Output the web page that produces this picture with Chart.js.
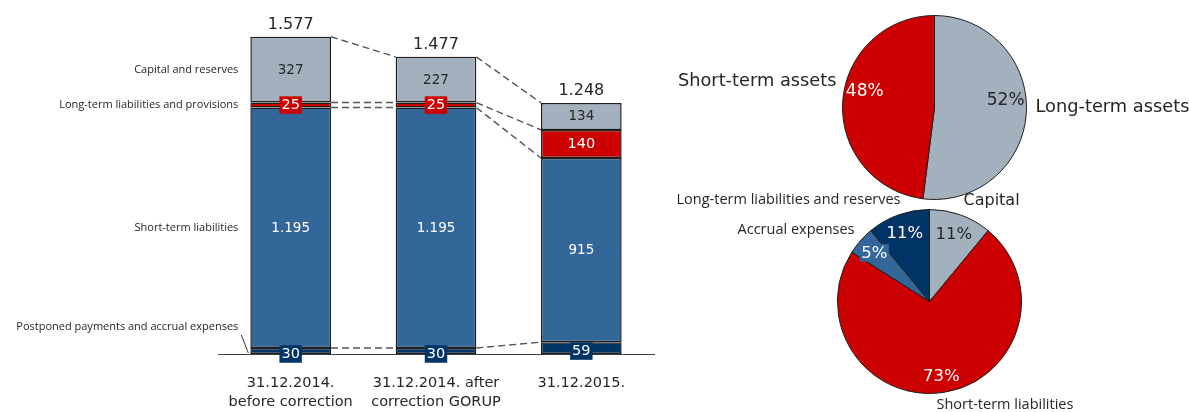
<!DOCTYPE html>
<html><head><meta charset="utf-8">
<script src="https://cdn.jsdelivr.net/npm/chart.js@4.4.1/dist/chart.umd.min.js"></script>
<style>
html,body{margin:0;padding:0;background:#fff;overflow:hidden;}
#wrap{position:relative;width:1189px;height:412px;}
canvas{position:absolute;}
</style></head><body>
<div id="wrap">
<canvas id="bars" width="660" height="412" style="left:0;top:0"></canvas>
<canvas id="pieTop" width="529" height="205" style="left:660px;top:0"></canvas>
<canvas id="pieBottom" width="529" height="232" style="left:660px;top:180px"></canvas>
</div>
<script>
// ---- data ----
const categories = [["31.12.2014.", "before correction"], ["31.12.2014. after", "correction GORUP"], ["31.12.2015."]];
const seriesNames = ["Postponed payments and accrual expenses", "Short-term liabilities", "Long-term liabilities and provisions", "Capital and reserves"];
const accrualExpenses = [30, 30, 59];
const shortTermLiabilities = [1195, 1195, 915];
const longTermLiabilities = [25, 25, 140];
const capitalReserves = [327, 227, 134];
const assetLabels = ["Long-term assets", "Short-term assets"];
const assetShares = [52, 48];
const liabilityLabels = ["Capital", "Short-term liabilities", "Accrual expenses", "Long-term liabilities and reserves"];
const liabilityShares = [11, 73, 5, 11];

// ---- styles ----
const NAVY = '#003366', BLUE = '#336699', RED = '#cc0000', GRAY = '#a3b1bf', DARK = '#262626', EDGE = '#1e1e1e';
Chart.defaults.font.family = 'DejaVu Sans';
const fmt = v => String(v).replace(/\B(?=(\d{3})+(?!\d))/g, '.');

const segStyles = [
  {box: NAVY, color: '#fff', size: 14.5, dy: 3},
  {box: null, color: '#fff', size: 13.5, dy: 0},
  {box: RED, color: '#fff', size: 14.5, dy: 0},
  {box: null, color: DARK, size: 13.5, dy: 0}
];

const barPlugin = {
  id: 'barDecor',
  afterDatasetsDraw(chart) {
    const ctx = chart.ctx;
    const metas = chart.data.datasets.map((d, i) => chart.getDatasetMeta(i));
    // dashed connectors
    ctx.save();
    ctx.strokeStyle = '#555';
    ctx.lineWidth = 1.4;
    ctx.setLineDash([7, 4]);
    for (let c = 0; c < categories.length - 1; c++) {
      const a = metas[0].data[c], b = metas[0].data[c + 1];
      const ax = a.x + a.width / 2, bx = b.x - b.width / 2;
      const lv = [[metas[3], 'y'], [metas[3], 'base'], [metas[2], 'base'], [metas[0], 'y']];
      lv.forEach(([m, k]) => {
        ctx.beginPath();
        ctx.moveTo(ax, m.data[c][k]);
        ctx.lineTo(bx, m.data[c + 1][k]);
        ctx.stroke();
      });
    }
    ctx.restore();
    // segment labels
    ctx.save();
    ctx.textAlign = 'center';
    ctx.textBaseline = 'middle';
    metas.forEach((m, di) => {
      const st = segStyles[di];
      const vals = chart.data.datasets[di].data;
      m.data.forEach((el, i) => {
        const cy = (el.y + el.base) / 2 + st.dy;
        const txt = fmt(vals[i]);
        ctx.font = st.size + 'px "DejaVu Sans"';
        if (st.box) {
          const w = ctx.measureText(txt).width + 4;
          const h = st.size + 3;
          ctx.fillStyle = st.box;
          ctx.fillRect(el.x - w / 2, cy - h / 2, w, h);
        }
        ctx.fillStyle = st.color;
        ctx.fillText(txt, el.x, cy + 0.5);
      });
    });
    // totals
    ctx.font = '16px "DejaVu Sans"';
    ctx.fillStyle = DARK;
    metas[3].data.forEach((el, i) => {
      const tot = accrualExpenses[i] + shortTermLiabilities[i] + longTermLiabilities[i] + capitalReserves[i];
      ctx.fillText(fmt(tot), el.x, el.y - 12);
    });
    // series names on left of first bar
    ctx.font = '11px "Open Sans"';
    ctx.textAlign = 'right';
    metas.forEach((m, di) => {
      const el = m.data[0];
      const left = el.x - el.width / 2;
      let cy = (el.y + el.base) / 2;
      if (di === 0) {
        cy -= 24;
        ctx.save();
        ctx.strokeStyle = '#333';
        ctx.lineWidth = 1;
        ctx.beginPath();
        ctx.moveTo(left - 9, cy + 8);
        ctx.lineTo(left - 2, el.base - 1);
        ctx.stroke();
        ctx.restore();
      }
      ctx.fillStyle = DARK;
      ctx.fillText(seriesNames[di], left - 12, cy);
    });
    ctx.restore();
  }
};

new Chart(document.getElementById('bars'), {
  type: 'bar',
  data: {
    labels: categories,
    datasets: [
      {label: seriesNames[0], data: accrualExpenses, backgroundColor: NAVY},
      {label: seriesNames[1], data: shortTermLiabilities, backgroundColor: BLUE},
      {label: seriesNames[2], data: longTermLiabilities, backgroundColor: RED},
      {label: seriesNames[3], data: capitalReserves, backgroundColor: GRAY}
    ].map(d => Object.assign(d, {borderColor: EDGE, borderWidth: 1.5, borderSkipped: false, categoryPercentage: 1, barPercentage: 0.555}))
  },
  options: {
    responsive: false,
    animation: false,
    devicePixelRatio: 1,
    layout: {padding: {left: 218, right: 6, top: 12, bottom: 0}},
    plugins: {legend: {display: false}, tooltip: {enabled: false}},
    scales: {
      x: {
        stacked: true,
        grid: {display: false, drawTicks: false},
        border: {display: true, color: '#404040', width: 1},
        ticks: {color: DARK, padding: 20, font: {family: 'DejaVu Sans', size: 14.5, lineHeight: 1.3}, maxRotation: 0, autoSkip: false},
        afterFit(s) { s.height = 58; }
      },
      y: {stacked: true, display: false, min: 0, max: 1700}
    }
  },
  plugins: [barPlugin]
});

// ---- pies ----
function piePlugin(cfg) {
  return {
    id: 'pieDecor',
    afterDatasetsDraw(chart) {
      const ctx = chart.ctx;
      const arcs = chart.getDatasetMeta(0).data;
      const cx = arcs[0].x, cy = arcs[0].y, R = arcs[0].outerRadius;
      const vals = chart.data.datasets[0].data;
      ctx.save();
      ctx.textAlign = 'center';
      ctx.textBaseline = 'middle';
      arcs.forEach((arc, i) => {
        const st = cfg.pct[i];
        const mid = (arc.startAngle + arc.endAngle) / 2;
        const x = cx + R * st.r * Math.cos(mid);
        const y = cy + R * st.r * Math.sin(mid) + cfg.dy;
        const txt = vals[i] + '%';
        ctx.font = cfg.pctSize + 'px "DejaVu Sans"';
        if (st.box) {
          const w = ctx.measureText(txt).width + 3;
          const h = cfg.pctSize + 1;
          ctx.fillStyle = st.box;
          ctx.fillRect(x - w / 2, y - h / 2, w, h);
        }
        ctx.fillStyle = st.color;
        ctx.fillText(txt, x, y + 0.5);
      });
      cfg.outer.forEach(o => {
        ctx.font = o.font;
        ctx.fillStyle = DARK;
        ctx.textAlign = o.align;
        const p = o.pos(cx, cy, R);
        ctx.fillText(o.text, p[0], p[1]);
      });
      ctx.restore();
    }
  };
}

new Chart(document.getElementById('pieTop'), {
  type: 'pie',
  data: {labels: assetLabels, datasets: [{data: assetShares, backgroundColor: [GRAY, RED], borderColor: EDGE, borderWidth: 1}]},
  options: {
    responsive: false, animation: false, devicePixelRatio: 1,
    layout: {padding: {left: 182, right: 162, top: 15, bottom: 5}},
    plugins: {legend: {display: false}, tooltip: {enabled: false}}
  },
  plugins: [piePlugin({
    pctSize: 17, dy: -12,
    pct: [{r: 0.775, color: DARK}, {r: 0.76, color: '#fff'}],
    outer: [
      {text: assetLabels[1], font: '17.8px "DejaVu Sans"', align: 'right', pos: (cx, cy, R) => [cx - R - 6, cy - 26]},
      {text: assetLabels[0], font: '17.8px "DejaVu Sans"', align: 'left', pos: (cx, cy, R) => [cx + R + 9, cy]}
    ]
  })]
});

new Chart(document.getElementById('pieBottom'), {
  type: 'pie',
  data: {labels: liabilityLabels, datasets: [{data: liabilityShares, backgroundColor: [GRAY, RED, BLUE, NAVY], borderColor: EDGE, borderWidth: 1}]},
  options: {
    responsive: false, animation: false, devicePixelRatio: 1,
    layout: {padding: {left: 177, right: 167, top: 29, bottom: 18}},
    plugins: {legend: {display: false}, tooltip: {enabled: false}}
  },
  plugins: [piePlugin({
    pctSize: 16.5, dy: 0,
    pct: [{r: 0.78, color: DARK}, {r: 0.82, color: '#fff'}, {r: 0.8, color: '#fff', box: BLUE}, {r: 0.79, color: '#fff'}],
    outer: [
      {text: liabilityLabels[3], font: '14.5px "Open Sans"', align: 'right', pos: (cx, cy, R) => [cx - 29, cy - R - 10]},
      {text: liabilityLabels[0], font: '16px "DejaVu Sans"', align: 'left', pos: (cx, cy, R) => [cx + 34, cy - R - 9]},
      {text: liabilityLabels[2], font: '14.5px "Open Sans"', align: 'right', pos: (cx, cy, R) => [cx - 75, cy - 72]},
      {text: liabilityLabels[1], font: '14.5px "Open Sans"', align: 'left', pos: (cx, cy, R) => [cx + 7, cy + R + 11.5]}
    ]
  })]
});
</script>
</body></html>
